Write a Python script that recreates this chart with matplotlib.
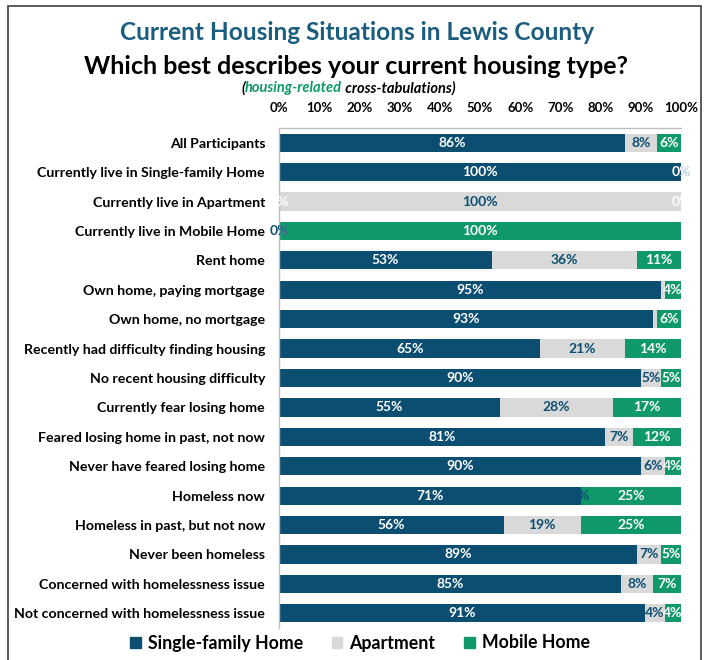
import matplotlib
matplotlib.use('Agg')
import matplotlib.pyplot as plt
from matplotlib.patches import Rectangle, Patch
import numpy as np

plt.rcParams['font.family'] = ['Lato', 'DejaVu Sans']

categories = ['All Participants', 'Currently live in Single-family Home',
              'Currently live in Apartment', 'Currently live in Mobile Home',
              'Rent home', 'Own home, paying mortgage', 'Own home, no mortgage',
              'Recently had difficulty finding housing', 'No recent housing difficulty',
              'Currently fear losing home', 'Feared losing home in past, not now',
              'Never have feared losing home', 'Homeless now',
              'Homeless in past, but not now', 'Never been homeless',
              'Concerned with homelessness issue', 'Not concerned with homelessness issue']

# bar widths as drawn
single = [86, 100, 0, 0, 53, 95, 93, 65, 90, 55, 81, 90, 75, 56, 89, 85, 91]
apart = [8, 0, 100, 0, 36, 1, 1, 21, 5, 28, 7, 6, 0, 19, 6, 8, 5]
mobile = [6, 0, 0, 100, 11, 4, 6, 14, 5, 17, 12, 4, 25, 25, 5, 7, 4]

# printed labels
single_txt = ['86%', '100%', '0%', '0%', '53%', '95%', '93%', '65%', '90%', '55%',
              '81%', '90%', '71%', '56%', '89%', '85%', '91%']
apart_txt = ['8%', '0%', '100%', '0%', '36%', '1%', '1%', '21%', '5%', '28%',
             '7%', '6%', '4%', '19%', '7%', '8%', '4%']
mobile_txt = ['6%', '0%', '0%', '100%', '11%', '4%', '6%', '14%', '5%', '17%',
              '12%', '4%', '25%', '25%', '5%', '7%', '4%']

series = ['Single-family Home', 'Apartment', 'Mobile Home']
colors = ['#0c4e72', '#d9d9d9', '#0f9869']
txt_colors = ['white', '#0c4e72', 'white']
ticks = [0, 10, 20, 30, 40, 50, 60, 70, 80, 90, 100]

fig = plt.figure(figsize=(7.13, 6.6), dpi=100)
ax = fig.add_axes([279 / 713, 1 - 628 / 660, 402 / 713, 500 / 660])

y = np.arange(len(categories))
left = np.zeros(len(categories))
all_vals = [single, apart, mobile]
all_txt = [single_txt, apart_txt, mobile_txt]
for vals, c in zip(all_vals, colors):
    vals = np.array(vals, dtype=float)
    ax.barh(y, vals, left=left, height=0.62, color=c, zorder=2)
    left = left + vals

left = np.zeros(len(categories))
for vals, txts, tc in zip(all_vals, all_txt, txt_colors):
    vals = np.array(vals, dtype=float)
    for i in range(len(categories)):
        if txts[i] == '1%':
            continue  # hidden in the original (segment too thin)
        ax.text(left[i] + vals[i] / 2, y[i], txts[i], ha='center', va='center',
                color=tc, fontsize=10, fontweight='bold', clip_on=False, zorder=3)
    left = left + vals

ax.set_xlim(0, 100)
ax.set_ylim(len(categories) - 0.5, -0.5)
ax.xaxis.tick_top()
ax.set_xticks(ticks)
ax.set_xticklabels(['%d%%' % t for t in ticks], fontsize=9.5, fontweight='bold')
ax.tick_params(axis='x', length=0, pad=10)
ax.set_yticks(y)
ax.set_yticklabels(categories, fontsize=10.2, fontweight='bold')
ax.tick_params(axis='y', length=0, pad=10)
for s in ['right', 'bottom']:
    ax.spines[s].set_visible(False)
for s in ['left', 'top']:
    ax.spines[s].set_color('#bfbfbf')
    ax.spines[s].set_linewidth(1)

fig.text(357 / 713, 1 - 33 / 660, 'Current Housing Situations in Lewis County',
         ha='center', va='center', fontsize=17.6, fontweight='bold', color='#1b5d7e')
fig.text(356 / 713, 1 - 66 / 660, 'Which best describes your current housing type?',
         ha='center', va='center', fontsize=18, fontweight='bold', color='black')
fig.canvas.draw()
r = fig.canvas.get_renderer()
x0 = 241 / 713
parts = [('(', 'black'), ('housing-related', '#0f9869'), (' cross-tabulations)', 'black')]
for s, c in parts:
    t = fig.text(x0, 1 - 88 / 660, s, ha='left', va='center', fontsize=10.5,
                 fontstyle='italic', fontweight='bold', color=c)
    bb = t.get_window_extent(renderer=r)
    x0 += bb.width / fig.bbox.width

handles = [Patch(color=c, label=l) for c, l in zip(colors, series)]
fig.legend(handles=handles, loc='center', bbox_to_anchor=(360 / 713, 1 - 643 / 660),
           ncol=3, frameon=False, handlelength=0.6, handleheight=0.6,
           columnspacing=1.6, handletextpad=0.4,
           prop={'size': 12.8, 'weight': 'bold'})

fig.add_artist(Rectangle((8 / 713, -0.02), 693 / 713, 1 - 6 / 660 + 0.02,
                         transform=fig.transFigure, fill=False,
                         edgecolor='#404040', linewidth=1.2))

fig.savefig('out.png', dpi=100)
